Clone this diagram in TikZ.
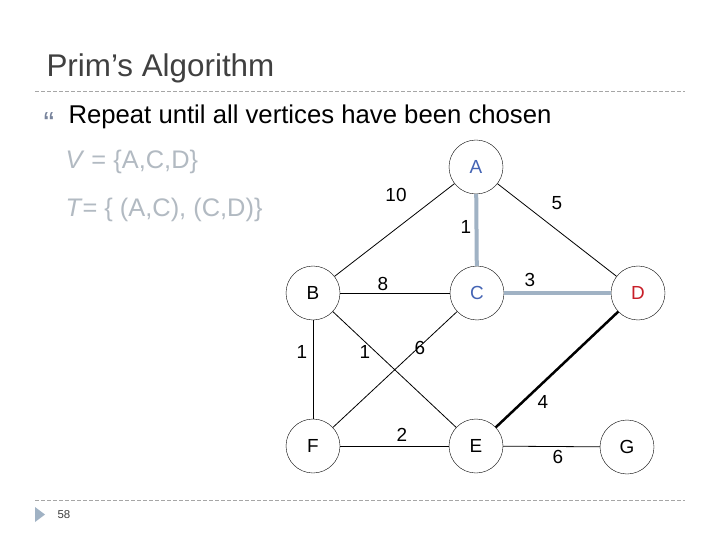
\documentclass[tikz,border=0pt]{standalone}
\usepackage{fontspec}
\setmainfont{Liberation Sans}
\definecolor{treeblue}{RGB}{160,178,196}
\definecolor{softgray}{RGB}{178,186,194}
\definecolor{bulletgray}{RGB}{120,132,156}
\definecolor{titlegray}{RGB}{64,64,64}
\definecolor{vblue}{RGB}{68,100,180}
\definecolor{vred}{RGB}{200,30,40}
\tikzset{
  vertex/.style={draw,circle,thin,minimum size=54bp,inner sep=0pt,font=\fontsize{19}{21}\selectfont},
  weight/.style={font=\fontsize{19}{21}\selectfont,inner sep=0pt},
  edge/.style={draw,line width=0.8bp},
  treeedge/.style={draw,treeblue,line width=4bp},
  rule/.style={draw,gray!70,line width=0.6bp,dash pattern=on 4bp off 2bp}
}
\begin{document}
\begin{tikzpicture}[x=1bp,y=-1bp]
\useasboundingbox[fill=white] (0,0) rectangle (720,540);
\node[anchor=west,text=titlegray,font=\fontsize{31.5}{34}\selectfont] (title) at (43,68) {Prim’s Algorithm};
\draw[rule] (35,91) -- (685,91);
\node[text=bulletgray,font=\fontsize{32}{34}\selectfont] (bullet) at (49,124) {“};
\node[anchor=west,font=\fontsize{25.8}{30}\selectfont] (step) at (65,117) {Repeat until all vertices have been chosen};
\node[anchor=west,text=softgray,font=\fontsize{25.5}{30}\selectfont] (vset) at (62,162) {\textit{V} = \{A,C,D\}};
\node[anchor=west,text=softgray,font=\fontsize{25.5}{30}\selectfont] (tset) at (62,210) {\textit{T}= \{ (A,C), (C,D)\}};

\node[vertex,text=vblue] (A) at (476,167) {A};
\node[vertex] (B) at (313,293) {B};
\node[vertex,text=vblue] (C) at (477,293) {C};
\node[vertex,text=vred] (D) at (638,293) {D};
\node[vertex] (F) at (313,446) {F};
\node[vertex] (E) at (476,446) {E};
\node[vertex] (G) at (627,447) {G};

\draw[edge] (A) -- (B);
\draw[edge] (A) -- (D);
\draw[edge] (B) -- (C);
\draw[edge] (B) -- (F);
\draw[edge] (B) -- (E);
\draw[edge] (C) -- (F);
\draw[edge] (F) -- (E);
\draw[edge] (E) -- (G);
\draw[draw,line width=2.5bp] (D) -- (E);
\draw[treeedge] (A) -- (C);
\draw[treeedge] (C) -- (D);

\node[weight] (wAB) at (396,195) {10};
\node[weight] (wAD) at (557,203) {5};
\node[weight] (wAC) at (466,227) {1};
\node[weight] (wBC) at (383,284) {8};
\node[weight] (wCD) at (530,280) {3};
\node[weight] (wBF) at (302,352) {1};
\node[weight] (wBE) at (365,352) {1};
\node[weight] (wCF) at (420,348) {6};
\node[weight] (wDE) at (543,402) {4};
\node[weight] (wFE) at (402,435) {2};
\node[weight] (wEG) at (558,457) {6};

\draw[rule] (35,500) -- (685,500);
\fill[treeblue] (35,507) -- (45,514.5) -- (35,522) -- cycle;
\node[anchor=west,text=titlegray,font=\fontsize{11.5}{13}\selectfont] (page) at (54,515) {58};
\end{tikzpicture}
\end{document}
